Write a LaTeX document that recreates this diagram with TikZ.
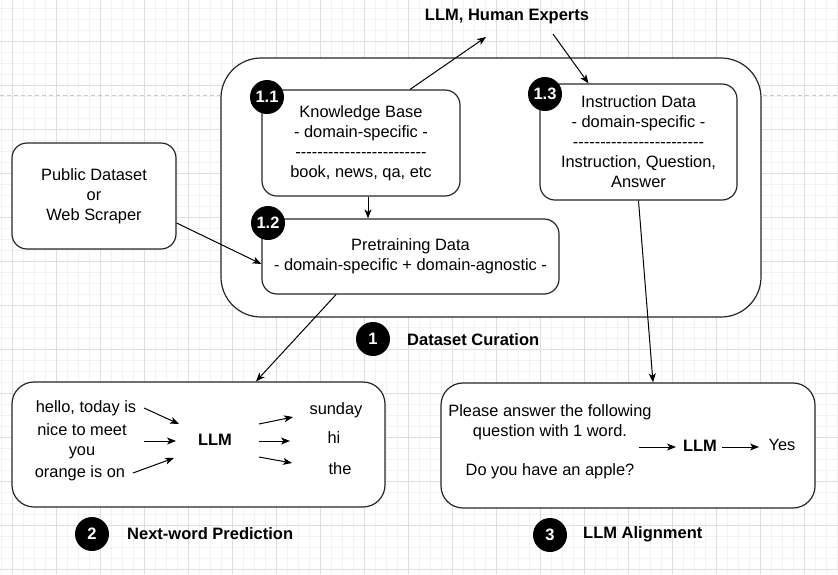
\documentclass[tikz,border=0pt]{standalone}
\usepackage{fontspec}
\setmainfont{Liberation Sans}
\usetikzlibrary{arrows.meta,calc}
\newcommand\dashrow{-{}-{}-{}-{}-{}-{}-{}-{}-{}-{}-{}-{}-{}-{}-{}-{}-{}-{}-{}-{}-{}-{}-{}-}
\definecolor{minorgrid}{HTML}{F2F2F2}
\definecolor{majorgrid}{HTML}{DEDEDE}
\definecolor{sepline}{HTML}{C8C8C8}
\definecolor{edge}{HTML}{262626}
\begin{document}
\begin{tikzpicture}[x=1pt,y=-1pt,
  box/.style={draw=edge, line width=1.2pt, fill=white, rounded corners=15pt, align=center,
    font=\fontsize{16.4}{20}\selectfont, inner sep=0pt},
  badge/.style={circle, fill=black, text=white, font=\fontsize{16.5}{20}\selectfont\bfseries,
    minimum size=34pt, inner sep=0pt},
  lbl/.style={font=\fontsize{16.4}{20}\selectfont, align=center, inner sep=1pt},
  blbl/.style={font=\fontsize{16.5}{20}\selectfont\bfseries, inner sep=1pt},
  arr/.style={-{Stealth[length=9pt,width=7pt,inset=2.5pt]}, line width=1pt, black},
  minorline/.style={minorgrid, line width=0.8pt},
  majorline/.style={majorgrid, line width=1pt},
]
\useasboundingbox (0,0) rectangle (838,574);
\fill[white] (0,0) rectangle (838,574);
% grid
\foreach \i in {0,...,76} {
  \draw[minorline] ({1.5+11*\i},0) -- ({1.5+11*\i},574);
}
\foreach \i in {0,...,52} {
  \draw[minorline] (0,{8+11*\i}) -- (838,{8+11*\i});
}
\foreach \i in {0,...,18} {
  \draw[majorline] ({12.5+44*\i},0) -- ({12.5+44*\i},574);
}
\foreach \i in {0,...,12} {
  \draw[majorline] (0,{41+44*\i}) -- (838,{41+44*\i});
}
\draw[sepline, line width=1pt, dash pattern=on 4pt off 3pt] (0,95) -- (838,95);

% container
\node[box, rounded corners=40pt, minimum width=540pt, minimum height=259pt] (cur) at (491,187.5) {};
\node[box, minimum width=198pt, minimum height=106pt] (kb) at (361,143)
  {Knowledge Base\\- domain-specific -\\\dashrow\\book, news, qa, etc};
\node[box, minimum width=297pt, minimum height=75pt] (pre) at (410.5,256.5)
  {Pretraining Data\\- domain-specific + domain-agnostic -};
\node[box, minimum width=197pt, minimum height=116pt] (ins) at (638.5,142)
  {Instruction Data\\- domain-specific -\\\dashrow\\Instruction, Question,\\Answer};
\node[box, minimum width=164pt, minimum height=106pt] (pub) at (94,196)
  {Public Dataset\\or\\Web Scraper};
\node[box, rounded corners=22pt, minimum width=373pt, minimum height=125pt] (nwp) at (198.5,444.5) {};
\node[box, rounded corners=22pt, minimum width=374pt, minimum height=125pt] (ali) at (628,445.5) {};

% badges
\node[badge] (b11) at (267,97) {1.1};
\node[badge] (b12) at (268,223) {1.2};
\node[badge] (b13) at (545,94) {1.3};
\node[badge] (b1) at (373,339) {1};
\node[badge] (b2) at (92,534) {2};
\node[badge] (b3) at (550,535) {3};

% titles
\node[blbl] (exp) at (507,17) {LLM, Human Experts};
\node[blbl, anchor=west] (t1lbl) at (406,340) {Dataset Curation};
\node[blbl, anchor=west] (t2lbl) at (126,534) {Next-word Prediction};
\node[blbl, anchor=west] (t3lbl) at (582,534) {LLM Alignment};

% next-word contents
\node[lbl] (in1) at (86,408) {hello, today is};
\node[lbl] (in2) at (82,441.5) {nice to meet\\you};
\node[lbl] (in3) at (80,473) {orange is on};
\node[blbl] (llm1) at (215,440) {LLM};
\node[lbl] (out1) at (336,410) {sunday};
\node[lbl] (out2) at (334,438) {hi};
\node[lbl] (out3) at (340,469) {the};

% alignment contents
\node[lbl] (q1) at (550,422) {Please answer the following\\question with 1 word.};
\node[lbl] (q2) at (550,471) {Do you have an apple?};
\node[blbl] (llm2) at (700,446) {LLM};
\node[lbl] (yes) at (782,445) {Yes};

% free ends
\coordinate (e1) at (486,37);
\coordinate (e2) at (553,34);
\coordinate (a1s) at (144,408); \coordinate (a1e) at (179,424);
\coordinate (a2s) at (144,441); \coordinate (a2e) at (176,441);
\coordinate (a3s) at (133,473); \coordinate (a3e) at (174,458);
\coordinate (b1s) at (259,424); \coordinate (b1e) at (293,417);
\coordinate (b2s) at (259,441); \coordinate (b2e) at (290,441);
\coordinate (b3s) at (259,457); \coordinate (b3e) at (292,463);
\coordinate (c1s) at (639,447); \coordinate (c1e) at (676,447);
\coordinate (c2s) at (722,447); \coordinate (c2e) at (759,447);

% connectors
\draw[arr] ([xshift=49pt]kb.north) -- (e1);
\draw[arr] (e2) -- ([xshift=-50pt]ins.north);
\draw[arr] ([xshift=7pt]kb.south) -- ([xshift=7pt]kb.south |- pre.north);
\draw[arr] ([yshift=-27pt]pub.east) -- ([yshift=-7.5pt]pre.west);
\draw[arr] ([xshift=-74.5pt]pre.south) -- ([xshift=57.5pt]nwp.north);
\draw[arr] (ins.south) -- ([xshift=25pt]ali.north);

\draw[arr] (a1s) -- (a1e);
\draw[arr] (a2s) -- (a2e);
\draw[arr] (a3s) -- (a3e);
\draw[arr] (b1s) -- (b1e);
\draw[arr] (b2s) -- (b2e);
\draw[arr] (b3s) -- (b3e);
\draw[arr] (c1s) -- (c1e);
\draw[arr] (c2s) -- (c2e);
\end{tikzpicture}
\end{document}
